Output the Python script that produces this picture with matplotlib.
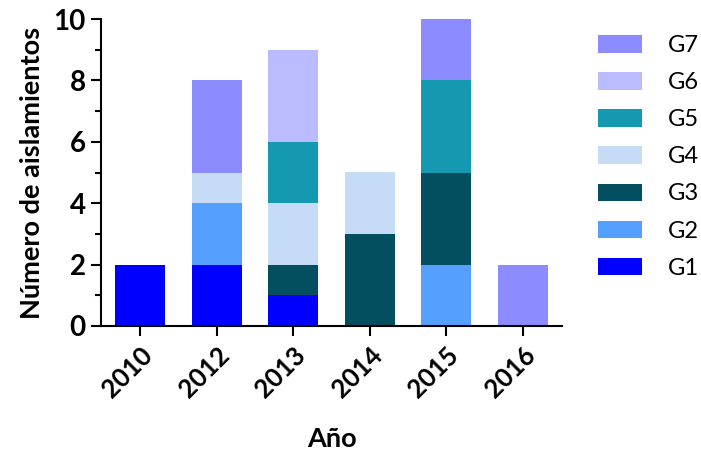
import matplotlib
matplotlib.use("Agg")
import matplotlib.pyplot as plt
from matplotlib.patches import Patch
from matplotlib.ticker import MultipleLocator

years = ["2010", "2012", "2013", "2014", "2015", "2016"]
groups = ["G1", "G2", "G3", "G4", "G5", "G6", "G7"]
g1 = [2, 2, 1, 0, 0, 0]
g2 = [0, 2, 0, 0, 2, 0]
g3 = [0, 0, 1, 3, 3, 0]
g4 = [0, 1, 2, 2, 0, 0]
g5 = [0, 0, 2, 0, 3, 0]
g6 = [0, 0, 3, 0, 0, 0]
g7 = [0, 3, 0, 0, 2, 2]
series = [g1, g2, g3, g4, g5, g6, g7]
colors = ["#0000FF", "#559FFF", "#034E5F", "#C6DCF6", "#1499B1", "#BBBBFF", "#8C8CFF"]

plt.rcParams["font.family"] = ["Lato", "DejaVu Sans"]

fig = plt.figure(figsize=(7.01, 4.51), dpi=100)
ax = fig.add_axes([101 / 701, 1 - 326 / 451, (562 - 101) / 701, (326 - 19) / 451])

x = list(range(len(years)))
bottom = [0] * len(years)
for vals, col in zip(series, colors):
    ax.bar(x, vals, bottom=bottom, width=0.65, color=col, linewidth=0)
    bottom = [b + v for b, v in zip(bottom, vals)]

ax.set_xlim(-0.51, 5.51)
ax.set_ylim(0, 10)
ax.yaxis.set_major_locator(MultipleLocator(2))
ax.yaxis.set_minor_locator(MultipleLocator(1))
ax.set_xticks(x)
ax.set_xticklabels(years, rotation=45, ha="right", rotation_mode="anchor",
                   fontsize=18.5, fontweight="bold")
for lab in ax.get_yticklabels():
    lab.set_fontsize(20)
    lab.set_fontweight("bold")

for s in ["top", "right"]:
    ax.spines[s].set_visible(False)
for s in ["left", "bottom"]:
    ax.spines[s].set_linewidth(1.5)
ax.tick_params(axis="both", which="major", width=1.5, length=7, color="black")
ax.tick_params(axis="y", which="minor", width=1.5, length=4)
ax.tick_params(axis="x", pad=5)
ax.tick_params(axis="y", pad=4)

ax.set_ylabel("Número de aislamientos", fontsize=19.5, fontweight="bold", labelpad=7)
ax.set_xlabel("Año", fontsize=19.5, fontweight="bold", labelpad=18)

handles = [Patch(facecolor=c, edgecolor="none") for c in colors[::-1]]
fig.legend(handles, groups[::-1], loc="upper left", bbox_to_anchor=(577 / 701, 1 - 14 / 451),
           frameon=False, fontsize=17, handlelength=1.86, handleheight=0.76,
           labelspacing=0.68, handletextpad=1.1)

fig.savefig("out.png", dpi=100)
